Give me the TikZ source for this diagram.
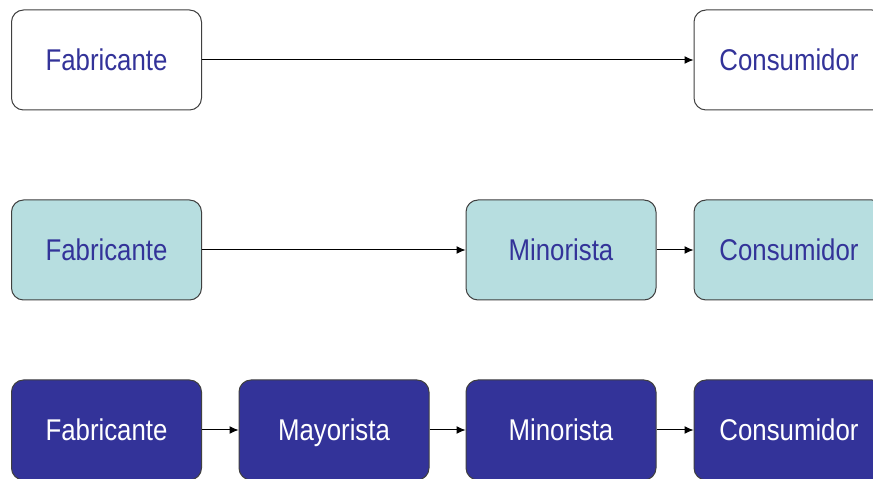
\documentclass[tikz,border=0pt]{standalone}
\usepackage{fontspec}
\setmainfont[FakeStretch=0.86]{Liberation Sans}
\usetikzlibrary{arrows.meta}
\definecolor{stageText}{RGB}{51,51,153}
\definecolor{lightFill}{RGB}{183,222,224}
\definecolor{darkFill}{RGB}{51,51,153}
\definecolor{borderColor}{RGB}{64,64,64}
\tikzset{
  stage/.style={draw=borderColor, line width=1pt, rounded corners=12pt,
    minimum width=190pt, minimum height=100pt, inner sep=0pt,
    text height=22pt, text depth=0pt, font=\fontsize{30}{36}\selectfont},
  plainstage/.style={stage, fill=white, text=stageText},
  lightstage/.style={stage, fill=lightFill, text=stageText},
  darkstage/.style={stage, fill=darkFill, text=white},
  flow/.style={draw=black, line width=1pt, -{Latex[length=9pt,width=8pt]}}
}
\begin{document}
\begin{tikzpicture}[x=1pt,y=1pt]
\path[use as bounding box,fill=white] (0,0) rectangle (873,479);

% directo
\node[plainstage] (fab1) at (106.5,419) {Fabricante};
\node[plainstage] (con1) at (789,419) {Consumidor};
\draw[flow] (fab1) -- (con1);

% con minorista
\node[lightstage] (fab2) at (106.5,229) {Fabricante};
\node[lightstage] (min2) at (561,229) {Minorista};
\node[lightstage] (con2) at (789,229) {Consumidor};
\draw[flow] (fab2) -- (min2);
\draw[flow] (min2) -- (con2);

% con mayorista y minorista
\node[darkstage] (fab3) at (106.5,49) {Fabricante};
\node[darkstage] (may3) at (334,49) {Mayorista};
\node[darkstage] (min3) at (561,49) {Minorista};
\node[darkstage] (con3) at (789,49) {Consumidor};
\draw[flow] (fab3) -- (may3);
\draw[flow] (may3) -- (min3);
\draw[flow] (min3) -- (con3);
\end{tikzpicture}
\end{document}
